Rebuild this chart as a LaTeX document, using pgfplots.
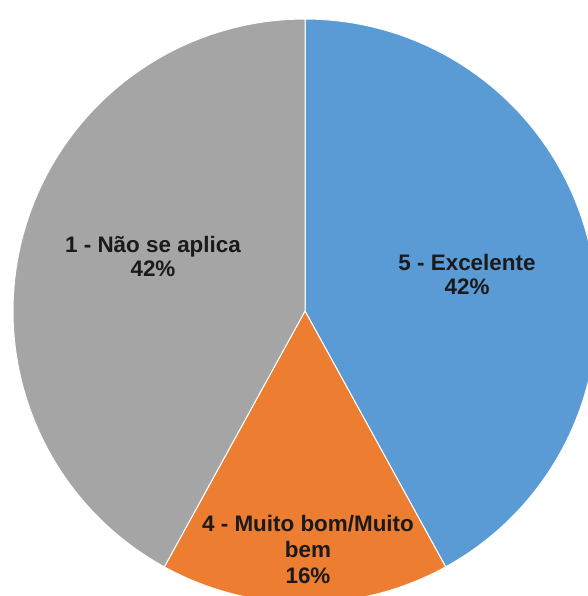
\documentclass[border=0pt]{standalone}
\usepackage{pgfplots}
\pgfplotsset{compat=1.18}
\usepackage{fontspec}
\setmainfont{Liberation Sans}
\definecolor{cblue}{HTML}{5B9BD5}
\definecolor{corange}{HTML}{ED7D31}
\definecolor{cgray}{HTML}{A5A5A5}
\definecolor{ctext}{HTML}{1A1A1A}
% slice values (percent), clockwise from 12 o'clock
\def\vA{42}% 5 - Excelente
\def\vB{16}% 4 - Muito bom/Muito bem
\def\vC{42}% 1 - Nao se aplica
\pgfmathsetmacro\aA{90}
\pgfmathsetmacro\aB{90-\vA*3.6}
\pgfmathsetmacro\aC{\aB-\vB*3.6}
\pgfmathsetmacro\aD{\aC-\vC*3.6}
\def\cx{305}\def\cy{285}\def\R{292}
\begin{document}
\begin{tikzpicture}
\path[use as bounding box] (0,0) rectangle (588bp,596bp);
\begin{axis}[at={(0,0)}, anchor=south west, scale only axis,
  width=588bp, height=596bp, xmin=0, xmax=588, ymin=0, ymax=596,
  hide axis, clip=true]
\addplot[fill=cblue, draw=white, line width=1pt, domain=\aB:\aA, samples=120, variable=\t]
  ({\cx+\R*cos(\t)},{\cy+\R*sin(\t)}) -- (axis cs:\cx,\cy) -- cycle;
\addplot[fill=corange, draw=white, line width=1pt, domain=\aC:\aB, samples=60, variable=\t]
  ({\cx+\R*cos(\t)},{\cy+\R*sin(\t)}) -- (axis cs:\cx,\cy) -- cycle;
\addplot[fill=cgray, draw=white, line width=1pt, domain=\aD:\aC, samples=120, variable=\t]
  ({\cx+\R*cos(\t)},{\cy+\R*sin(\t)}) -- (axis cs:\cx,\cy) -- cycle;
\node[align=center, font=\fontsize{22.5}{25}\selectfont\bfseries, text=ctext, anchor=base]
  at (axis cs:153,319) {1 - Não se aplica\\42\%};
\node[align=center, font=\fontsize{22.5}{25}\selectfont\bfseries, text=ctext, anchor=base]
  at (axis cs:467,301) {5 - Excelente\\42\%};
\node[align=center, font=\fontsize{22.5}{26}\selectfont\bfseries, text=ctext, anchor=base]
  at (axis cs:308,13) {4 - Muito bom/Muito\\bem\\16\%};
\end{axis}
\end{tikzpicture}
\end{document}
